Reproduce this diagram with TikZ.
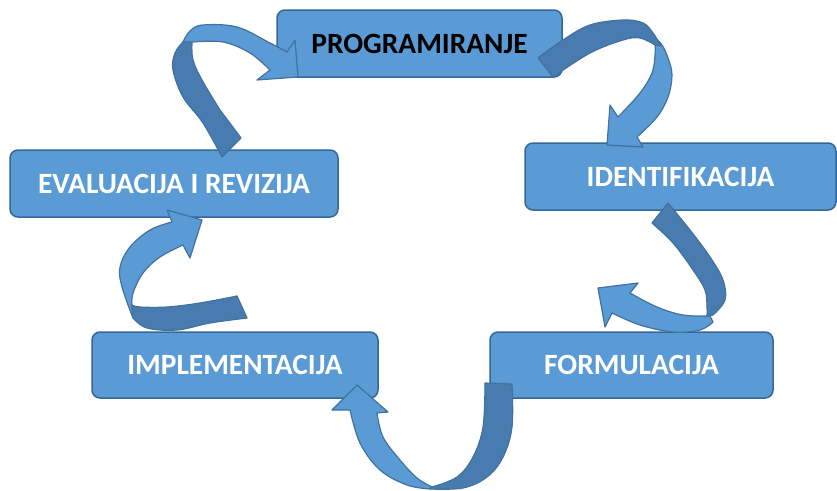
\documentclass[tikz,border=0pt]{standalone}
\usepackage{fontspec}
\setmainfont{Carlito}
\definecolor{boxfill}{HTML}{5B9BD5}
\definecolor{boxline}{HTML}{35679A}
\definecolor{arrdark}{HTML}{487CB1}
\definecolor{arrline}{HTML}{41719C}
\begin{document}
\begin{tikzpicture}[x=1pt,y=-1pt,
  box/.style={draw=boxline, line width=1.5pt, fill=boxfill, rounded corners=8pt,
    font=\fontsize{29.4}{31}\selectfont\bfseries, text=white, inner sep=0pt},
  lightpart/.style={fill=boxfill, draw=arrline, line width=1.2pt, line join=round},
  darkpart/.style={fill=arrdark, draw=arrline, line width=1.2pt, line join=round}]
\useasboundingbox (0,0) rectangle (837,490);

% boxes
\node[box, minimum width=285pt, minimum height=67pt, text=black] (prog) at (419.5,43.5) {PROGRAMIRANJE};
\node[box, minimum width=311pt, minimum height=67pt] (iden) at (680.5,176.5) {IDENTIFIKACIJA};
\node[box, minimum width=328pt, minimum height=67pt] (eval) at (174,183.5) {EVALUACIJA I REVIZIJA};
\node[box, minimum width=286pt, minimum height=66pt] (impl) at (235,365) {IMPLEMENTACIJA};
\node[box, minimum width=283pt, minimum height=66pt] (form) at (631.5,365) {FORMULACIJA};

% arrow 1: evaluacija -> programiranje
\filldraw[lightpart] plot[smooth, tension=0.6] coordinates {(183,42) (190,31) (203,25) (237,27) (270,43) (287,52)}
  -- (295,40) -- (298,77) -- (257,80)
  -- plot[smooth, tension=0.6] coordinates {(270,70) (250,53) (223,42) (193,42)} -- cycle;
\filldraw[darkpart] plot[smooth, tension=0.6] coordinates {(183,42) (175,53) (173,70) (183,97) (203,123) (222,157)}
  -- (241,138)
  -- plot[smooth, tension=0.6] coordinates {(220,110) (202,80) (193,60) (192,43)} -- cycle;

% arrow 2: programiranje -> identifikacija
\filldraw[lightpart] plot[smooth, tension=0.6] coordinates {(655,38) (662,45) (668,58) (672,75) (668,97) (657,117) (637,137)}
  -- (643,147) -- (607,145) -- (610,105)
  -- plot[smooth, tension=0.6] coordinates {(618,117) (640,93) (652,73) (655,55) (655,43)} -- cycle;
\filldraw[darkpart] plot[smooth, tension=0.6] coordinates {(538,58) (563,40) (590,25) (623,20) (643,23) (653,33) (661,46)}
  -- plot[smooth, tension=0.6] coordinates {(655,45) (640,38) (623,40) (590,53) (553,77)} -- cycle;

% arrow 3: identifikacija -> formulacija
\filldraw[lightpart] plot[smooth, tension=0.6] coordinates {(710,316) (683,315) (657,307) (630,293)}
  -- (638,283) -- (598,288) -- (605,327)
  -- plot[smooth, tension=0.6] coordinates {(612,313) (640,325) (673,332) (700,330) (713,322)} -- cycle;
\filldraw[darkpart] plot[smooth, tension=0.6] coordinates {(668,203) (690,230) (710,257) (723,280) (725,300) (713,315)}
  -- plot[smooth, tension=0.6] coordinates {(707,316) (707,307) (705,290) (693,270) (673,243) (652,223)} -- cycle;

% arrow 4: formulacija -> implementacija
\filldraw[lightpart] plot[smooth, tension=0.6] coordinates {(430,489) (407,485) (380,470) (360,443) (350,410)}
  -- (332,410) -- (357,385) -- (388,412)
  -- plot[smooth, tension=0.6] coordinates {(377,413) (383,437) (400,460) (417,478) (432,487)} -- cycle;
\filldraw[darkpart] plot[smooth, tension=0.6] coordinates {(512,384) (512,427) (503,457) (487,477) (463,488) (430,489)}
  -- plot[smooth, tension=0.6] coordinates {(432,487) (457,477) (473,457) (483,427) (485,383)} -- cycle;

% arrow 5: implementacija -> evaluacija
\filldraw[lightpart] plot[smooth, tension=0.6] coordinates {(133,318) (122,287) (120,267) (130,247) (150,230) (172,222)}
  -- (167,210) -- (202,220) -- (190,258)
  -- plot[smooth, tension=0.6] coordinates {(183,245) (160,257) (143,273) (133,293) (132,305)} -- cycle;
\filldraw[darkpart] plot[smooth, tension=0.6] coordinates {(237,296) (200,303) (167,307) (140,307) (132,305)}
  -- plot[smooth, tension=0.6] coordinates {(133,318) (147,328) (177,330) (210,323) (247,318)} -- cycle;
\end{tikzpicture}
\end{document}
